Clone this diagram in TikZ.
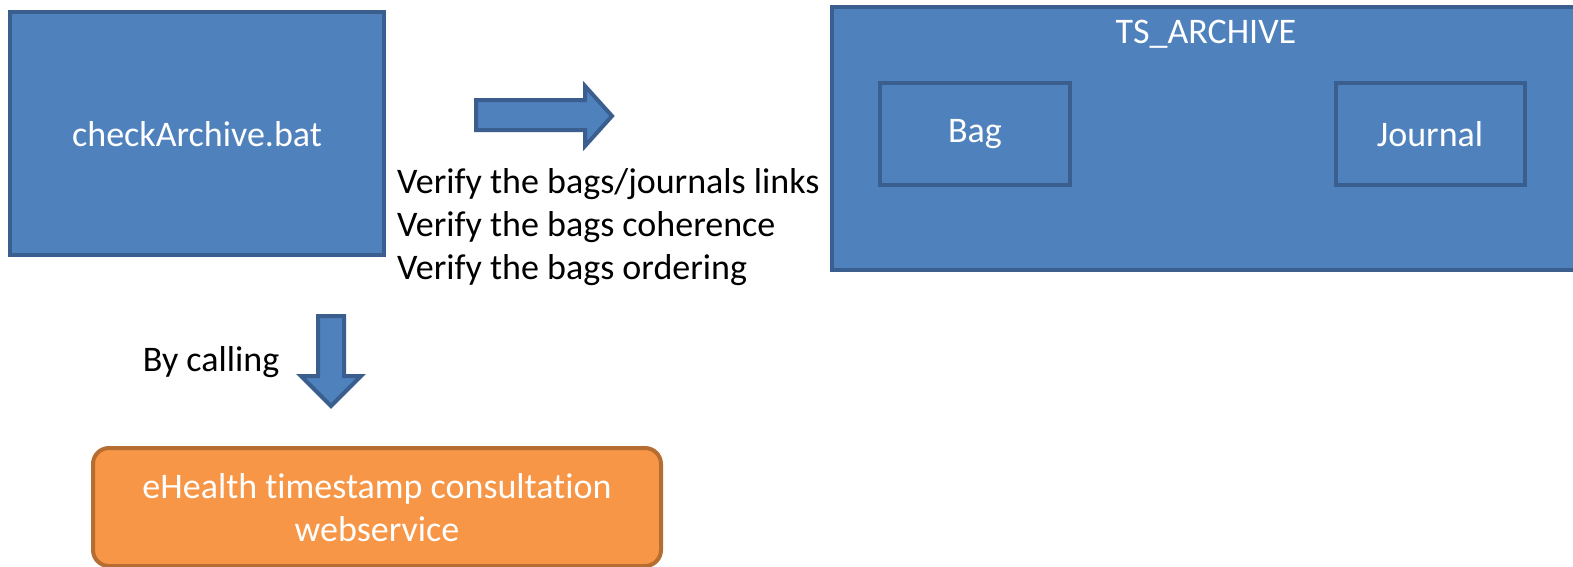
\documentclass[tikz,border=0pt]{standalone}
\usepackage{fontspec}
\setmainfont{Carlito}[Ligatures={NoCommon}]
\definecolor{bfill}{HTML}{4F81BD}
\definecolor{bline}{HTML}{3A5F8F}
\definecolor{ofill}{HTML}{F79646}
\definecolor{oline}{HTML}{B66D31}
\begin{document}
\begin{tikzpicture}[x=1pt,y=-1pt,
  bluebox/.style={draw=bline,fill=bfill,line width=4pt,text=white,inner sep=0pt},
  orangebox/.style={draw=oline,fill=ofill,line width=4pt,rounded corners=16pt,text=white,inner sep=0pt},
  blockarrow/.style={draw=bline,fill=bfill,line width=4pt,line join=miter},
  lbl/.style={font=\fontsize{36}{43}\selectfont,text=black,inner sep=0pt}]
\useasboundingbox (0,0) rectangle (1573,566);
\fill[white] (0,0) rectangle (1573,566);
% main box
\draw[bluebox] (10,12) rectangle (384,255);
\node[lbl,text=white] (check) at (197,134) {checkArchive.bat};
% archive box
\draw[bluebox] (832,7) rectangle (1600,270);
\node[lbl,text=white] (ts) at (1206,34) {TS\_ARCHIVE};
\draw[bluebox] (880,83) rectangle (1070,185);
\node[lbl,text=white] (bag) at (975,134) {Bag};
\draw[bluebox] (1336,83) rectangle (1525,185);
\node[lbl,text=white] (journal) at (1430,134) {Journal};
% right block arrow
\draw[blockarrow] (476,100) -- (585,100) -- (585,86) -- (612,116) -- (585,146) -- (585,130) -- (476,130) -- cycle;
% verify text
\node[lbl,anchor=west] (v1) at (397,184) {Verify the bags/journals links};
\node[lbl,anchor=west] (v2) at (397,227) {Verify the bags coherence};
\node[lbl,anchor=west] (v3) at (397,270) {Verify the bags ordering};
% down block arrow
\draw[blockarrow] (318,316) -- (344,316) -- (344,376) -- (361,376) -- (331,406) -- (301,376) -- (318,376) -- cycle;
\node[lbl] (by) at (211,362) {By calling};
% orange box
\draw[orangebox] (93,448) rectangle (661,566);
\node[lbl,text=white,align=center] (ws) at (377,508) {eHealth timestamp consultation\\webservice};
\end{tikzpicture}
\end{document}
